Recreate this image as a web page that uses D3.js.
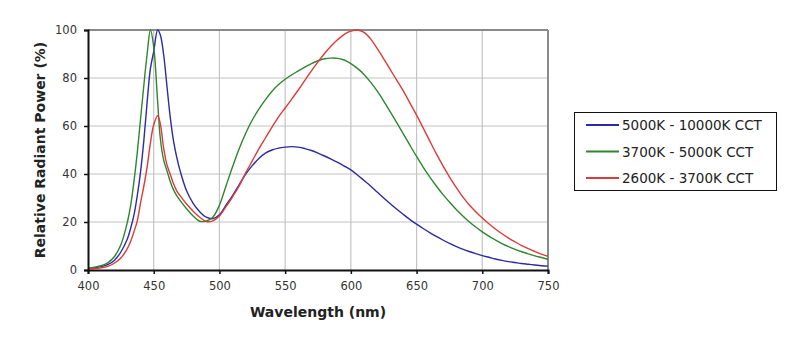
<!DOCTYPE html>
<html>
<head>
<meta charset="utf-8">
<script src="https://cdn.jsdelivr.net/npm/d3@7"></script>
<style>
html,body{margin:0;padding:0;background:#fff;}
svg{display:block;}
text{font-family:"DejaVu Sans",Verdana,sans-serif;}
</style>
</head>
<body>
<svg id="chart" width="800" height="345"></svg>
<script>
const wavelengths = [400,405,410,415,420,425,430,432.5,435,437.5,440,442.5,445,447.5,450,453,455,457.5,460,462.5,465,467.5,470,475,480,485,490,495,500,505,510,515,520,525,530,535,540,545,550,555,560,565,570,575,580,585,590,595,600,605,610,615,620,625,630,635,640,645,650,655,660,665,670,675,680,685,690,695,700,705,710,715,720,725,730,735,740,745,750];

const blue = [0.6,0.9,1.4,2.2,4,7.5,13,17.5,23,31,41,54,70,84,91,100,98,90,77,64,54,47,41.5,33,27.8,24.3,22,21.4,23,27,31,35.5,40,43.5,46.5,48.7,50,50.8,51.2,51.4,51.2,50.6,49.8,48.7,47.5,46.2,44.8,43.3,41.7,39.6,37.3,35,32.5,30,27.6,25.3,23.1,21,19.1,17.3,15.6,14,12.5,11.1,9.8,8.7,7.7,6.8,6,5.3,4.6,4,3.5,3.1,2.7,2.4,2.1,1.8,1.6];

const green = [0.8,1.2,1.8,3,5.5,10.5,20,27,37,49,63,77,90,100,93,70,55,46,41.5,37,33.5,31,29,25.5,22.5,20.3,20.4,22,27,35,43,50.5,57,62.5,67,71,74.5,77.3,79.5,81.3,83,84.5,86,87.2,88,88.3,88.2,87.5,86,84,81.5,78.3,74.6,70.4,65.9,61.3,56.6,51.9,47.3,42.9,38.8,35,31.5,28.3,25.3,22.6,20.1,17.9,15.9,14.1,12.5,11,9.7,8.6,7.6,6.7,5.9,5.2,4.5];

const red = [0.5,0.6,0.9,1.5,2.8,5,9,12,16,20.5,28,35,43,53,60.5,64.3,61,51,44,40,36,33,31,27.5,24.5,22,20.2,20.5,22.5,26.4,30.5,35,40.5,45.5,50.5,55,59.5,63.8,67.5,71.2,75,79,83,86.7,90.2,93.3,96,98.2,99.5,100,99,96.3,92.3,88,83.5,79,74.5,69.5,64.5,59.2,53.8,48.5,43.5,38.8,34.5,30.6,27.2,24.3,21.7,19.3,17.1,15.1,13.3,11.7,10.2,8.9,7.7,6.6,5.7];

const seriesNames = ["5000K - 10000K CCT","3700K - 5000K CCT","2600K - 3700K CCT"];
const seriesColors = ["#2b2ba6","#2e862e","#dd3a3a"];
const xTicks = [400,450,500,550,600,650,700,750];
const yTicks = [0,20,40,60,80,100];
const xTitle = "Wavelength (nm)";
const yTitle = "Relative Radiant Power (%)";

const seriesValues = [blue, green, red];

const svg = d3.select("#chart");
const L = 88, R = 548, T = 30, B = 270;

const x = d3.scaleLinear().domain([400,750]).range([L,R]);
const y = d3.scaleLinear().domain([0,100]).range([B,T]);

// gridlines
const grid = svg.append("g");
grid.selectAll("line.vx").data(xTicks.slice(1,-1)).enter().append("line")
  .attr("x1",d=>x(d)).attr("x2",d=>x(d)).attr("y1",T).attr("y2",B)
  .attr("stroke","#c4c4c4").attr("stroke-width",1.2);
grid.selectAll("line.hy").data(yTicks.slice(1,-1)).enter().append("line")
  .attr("x1",L).attr("x2",R).attr("y1",d=>y(d)).attr("y2",d=>y(d))
  .attr("stroke","#c4c4c4").attr("stroke-width",1.2);

// top & right border (gray)
svg.append("line").attr("x1",L).attr("x2",R).attr("y1",T).attr("y2",T)
  .attr("stroke","#8a8a8a").attr("stroke-width",2);
svg.append("line").attr("x1",R).attr("x2",R).attr("y1",T).attr("y2",B)
  .attr("stroke","#8a8a8a").attr("stroke-width",2);

// clip
svg.append("clipPath").attr("id","plotclip").append("rect")
  .attr("x",L).attr("y",T-1).attr("width",R-L).attr("height",B-T+1);

// lines
const line = d3.line().x((d,i)=>x(wavelengths[i])).y(d=>y(d)).curve(d3.curveCatmullRom.alpha(0.5));
seriesValues.forEach((vals,k)=>{
  svg.append("path").datum(vals).attr("d",line).attr("clip-path","url(#plotclip)")
    .attr("fill","none").attr("stroke",seriesColors[k]).attr("stroke-width",1.4);
});

// axes
const xAxis = d3.axisBottom(x).tickValues(xTicks).tickSize(4).tickPadding(8).tickFormat(d3.format("d"));
const yAxis = d3.axisLeft(y).tickValues(yTicks).tickSize(4).tickPadding(7).tickFormat(d3.format("d"));
const gx = svg.append("g").attr("transform",`translate(0,${B})`).call(xAxis);
const gy = svg.append("g").attr("transform",`translate(${L},0)`).call(yAxis);
[gx,gy].forEach(g=>{
  g.select(".domain").attr("stroke","#111").attr("stroke-width",2);
  g.selectAll(".tick line").attr("stroke","#111").attr("stroke-width",1.5);
  g.selectAll(".tick text").attr("fill","#333").style("font-size","11.5px")
    .style("font-family","'DejaVu Sans',Verdana,sans-serif");
});

// titles
svg.append("text").attr("x",318).attr("y",317).attr("text-anchor","middle")
  .style("font-size","14px").style("font-weight","bold").attr("fill","#222").text(xTitle);
svg.append("text").attr("transform","translate(45,150) rotate(-90)").attr("text-anchor","middle")
  .style("font-size","14px").style("font-weight","bold").attr("fill","#222").text(yTitle);

// legend
const lg = svg.append("g");
lg.append("rect").attr("x",574.5).attr("y",112.5).attr("width",202).attr("height",78)
  .attr("fill","#fff").attr("stroke","#111").attr("stroke-width",1);
seriesNames.forEach((name,k)=>{
  const yy = 125 + k*26.5;
  lg.append("line").attr("x1",586).attr("x2",619).attr("y1",yy).attr("y2",yy)
    .attr("stroke",seriesColors[k]).attr("stroke-width",2);
  lg.append("text").attr("x",622).attr("y",yy+5).style("font-size","13.5px")
    .attr("fill","#222").text(name);
});
</script>
</body>
</html>
